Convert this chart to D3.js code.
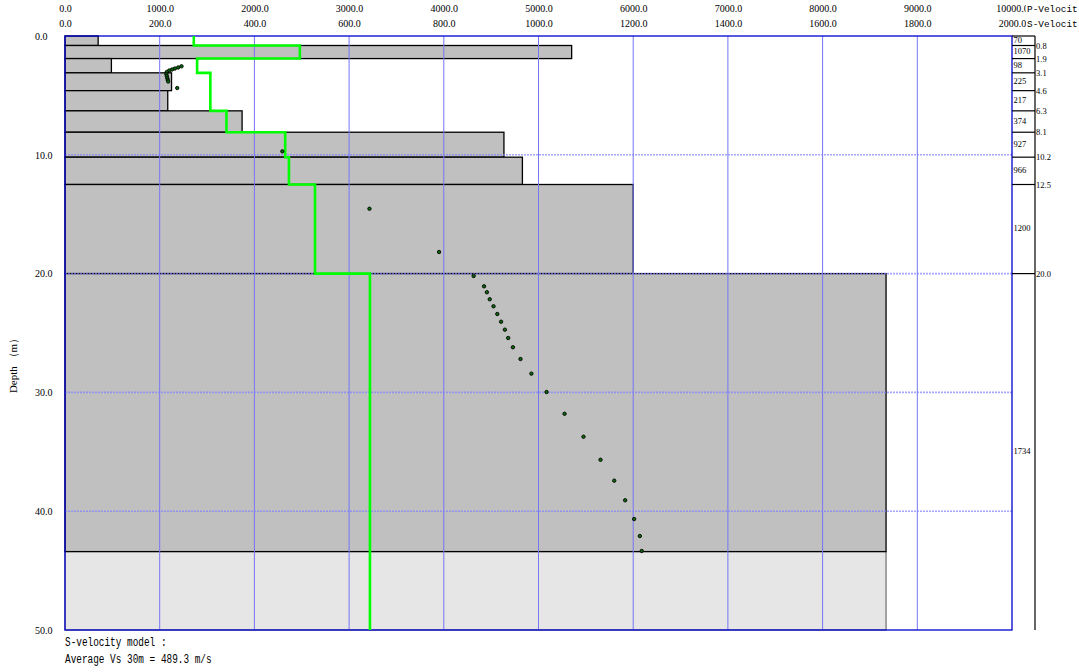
<!DOCTYPE html>
<html>
<head>
<meta charset="utf-8">
<script src="https://cdn.jsdelivr.net/npm/d3@7"></script>
<style>
  body { margin: 0; background: #fff; }
  svg { display: block; }
</style>
</head>
<body>
<div class="chart"></div>
<script>
// ---- data ----
const layerTops = [0, 0.8, 1.9, 3.1, 4.6, 6.3, 8.1, 10.2, 12.5, 20.0]
const layerBottoms = [0.8, 1.9, 3.1, 4.6, 6.3, 8.1, 10.2, 12.5, 20.0, 43.4]
const vsModel = [70, 1070, 98, 225, 217, 374, 927, 966, 1200, 1734]
const vsInitial = [272, 496, 279, 307, 307, 341, 465, 473, 528, 644]
const boundaryLabels = ['0.8', '1.9', '3.1', '4.6', '6.3', '8.1', '10.2', '12.5', '20.0']
const halfspace = { top: 43.4, bottom: 50, vs: 1734 }

const dispVel = [246, 239, 232, 226, 220, 215, 214, 215, 216, 217, 218, 237,
  459, 643, 790, 863, 885, 891, 897, 905, 913, 921, 929, 936, 946, 962, 985,
  1017, 1055, 1095, 1131, 1160, 1183, 1202, 1214, 1218]
const dispDepth = [2.55, 2.65, 2.74, 2.82, 2.91, 3.03, 3.2, 3.37, 3.54, 3.7, 3.83, 4.38,
  9.71, 14.54, 18.18, 20.2, 21.07, 21.57, 22.16, 22.75, 23.4, 24.05, 24.72, 25.42, 26.2,
  27.19, 28.42, 29.97, 31.8, 33.73, 35.67, 37.43, 39.08, 40.66, 42.09, 43.35]

const pTicks = d3.range(0, 10001, 1000)
const sTicks = d3.range(0, 2001, 200)
const depthTicks = [0, 10, 20, 30, 40, 50]

// ---- layout ----
const W = 1079, H = 672
const plot = { left: 65, right: 1012, top: 36, bottom: 630 }
const stripRight = 1035

const svg = d3.select('.chart').append('svg')
  .attr('width', W)
  .attr('height', H)

const xP = d3.scaleLinear().domain([0, 10000]).range([plot.left, plot.right])
const xS = d3.scaleLinear().domain([0, 2000]).range([plot.left, plot.right])
const y = d3.scaleLinear().domain([0, 50]).range([plot.top, plot.bottom])

const serif = '"Liberation Serif", "DejaVu Serif", serif'
const mono = '"Liberation Mono", "DejaVu Sans Mono", monospace'

// layer boxes
svg.append('rect')
  .attr('x', xS(0))
  .attr('y', y(halfspace.top))
  .attr('width', xS(halfspace.vs) - xS(0))
  .attr('height', y(halfspace.bottom) - y(halfspace.top))
  .attr('fill', '#e6e6e6')
  .attr('stroke', '#555')
  .attr('stroke-width', 1)

svg.append('g').selectAll('rect')
  .data(vsModel)
  .join('rect')
    .attr('x', xS(0))
    .attr('y', (d, i) => y(layerTops[i]))
    .attr('width', d => xS(d) - xS(0))
    .attr('height', (d, i) => y(layerBottoms[i]) - y(layerTops[i]))
    .attr('fill', '#c0c0c0')
    .attr('stroke', '#000')
    .attr('stroke-width', 1.3)

// grid
svg.append('g').selectAll('line')
  .data(pTicks.slice(1, -1))
  .join('line')
    .attr('x1', d => xP(d)).attr('x2', d => xP(d))
    .attr('y1', plot.top).attr('y2', plot.bottom)
    .attr('stroke', '#7575f5')
    .attr('stroke-width', 1)

svg.append('g').selectAll('line')
  .data(depthTicks.slice(1, -1))
  .join('line')
    .attr('x1', plot.left).attr('x2', plot.right)
    .attr('y1', d => y(d)).attr('y2', d => y(d))
    .attr('stroke', '#8080ff')
    .attr('stroke-opacity', 0.7)
    .attr('stroke-width', 1.6)
    .attr('stroke-dasharray', '2,1')

// plot frame
svg.append('rect')
  .attr('x', plot.left).attr('y', plot.top)
  .attr('width', plot.right - plot.left).attr('height', plot.bottom - plot.top)
  .attr('fill', 'none')
  .attr('stroke', '#0000d0')
  .attr('stroke-width', 1.3)

// right strip with layer boundaries
const strip = svg.append('g')
strip.append('line')
  .attr('x1', stripRight).attr('x2', stripRight)
  .attr('y1', plot.top).attr('y2', plot.bottom)
  .attr('stroke', '#000').attr('stroke-width', 1.2)
strip.append('line')
  .attr('x1', plot.right).attr('x2', stripRight)
  .attr('y1', plot.top).attr('y2', plot.top)
  .attr('stroke', '#000').attr('stroke-width', 1.2)
strip.selectAll('line.b')
  .data(layerBottoms.slice(0, -1))
  .join('line')
    .attr('class', 'b')
    .attr('x1', plot.right).attr('x2', stripRight)
    .attr('y1', d => y(d)).attr('y2', d => y(d))
    .attr('stroke', '#000').attr('stroke-width', 1.2)
strip.selectAll('text.b')
  .data(boundaryLabels)
  .join('text')
    .attr('class', 'b')
    .attr('x', stripRight + 1)
    .attr('y', (d, i) => y(layerBottoms[i]) + 3)
    .attr('font-family', serif)
    .attr('font-size', 8.5)
    .text(d => d)

// velocity label in each layer (last layer runs to the bottom)
const labelBottoms = layerBottoms.slice(0, -1).concat([50])
strip.selectAll('text.v')
  .data(vsModel)
  .join('text')
    .attr('class', 'v')
    .attr('x', plot.right + 1.5)
    .attr('y', (d, i) => (y(layerTops[i]) + y(labelBottoms[i])) / 2 + 2)
    .attr('font-family', serif)
    .attr('font-size', 8.5)
    .text(d => d)

// initial S-velocity model (green steps)
const steps = []
vsInitial.forEach((v, i) => {
  steps.push([v, layerTops[i]])
  steps.push([v, i === vsInitial.length - 1 ? 50 : layerBottoms[i]])
})
svg.append('path')
  .datum(steps)
  .attr('d', d3.line().x(d => xS(d[0])).y(d => y(d[1])))
  .attr('fill', 'none')
  .attr('stroke', '#00ff00')
  .attr('stroke-width', 2.6)

// dispersion points
svg.append('g').selectAll('circle')
  .data(dispVel)
  .join('circle')
    .attr('cx', d => xS(d))
    .attr('cy', (d, i) => y(dispDepth[i]))
    .attr('r', 1.7)
    .attr('fill', '#0a6a0a')
    .attr('stroke', '#000')
    .attr('stroke-width', 0.9)

// top axes
const fmt = d3.format('.1f')
const pAxis = svg.append('g')
  .attr('transform', 'translate(0, 12)')
  .call(d3.axisTop(xP).tickValues(pTicks).tickFormat(fmt).tickSize(0).tickPadding(0))
const sAxis = svg.append('g')
  .attr('transform', 'translate(0, 27)')
  .call(d3.axisTop(xS).tickValues(sTicks).tickFormat(fmt).tickSize(0).tickPadding(0))
;[pAxis, sAxis].forEach(g => {
  g.select('.domain').remove()
  g.selectAll('text')
    .attr('font-family', serif)
    .attr('font-size', 10)
    .attr('fill', '#000')
    .attr('dy', 0)
})

// left depth axis
const yAxis = svg.append('g')
  .attr('transform', `translate(${plot.left}, 0)`)
  .call(d3.axisLeft(y).tickValues(depthTicks).tickFormat(fmt).tickSize(0))
yAxis.select('.domain').remove()
yAxis.selectAll('text')
  .attr('x', 35 - plot.left)
  .attr('dy', '0.32em')
  .attr('text-anchor', 'start')
  .attr('font-family', serif)
  .attr('font-size', 10)
  .attr('fill', '#000')

// axis titles, drawn over the end of the last tick label as in the original
svg.append('rect')
  .attr('x', 1026).attr('y', 0).attr('width', 53).attr('height', 30)
  .attr('fill', '#fff')
svg.append('text')
  .attr('x', 1027).attr('y', 11.5)
  .attr('font-family', mono).attr('font-size', 9.4)
  .text('P-Velocit')
svg.append('text')
  .attr('x', 1027).attr('y', 26.5)
  .attr('font-family', mono).attr('font-size', 9.4)
  .text('S-Velocit')

svg.append('text')
  .attr('transform', `translate(17, ${(plot.top + plot.bottom) / 2 + 30}) rotate(-90)`)
  .attr('text-anchor', 'middle')
  .attr('font-family', serif)
  .attr('font-size', 11)
  .text('Depth （m）')

// summary text
svg.append('text')
  .attr('x', 65).attr('y', 646)
  .attr('font-family', mono).attr('font-size', 12)
  .attr('textLength', 18 * 5.64).attr('lengthAdjust', 'spacingAndGlyphs')
  .text('S-velocity model :')
svg.append('text')
  .attr('x', 65).attr('y', 663)
  .attr('font-family', mono).attr('font-size', 12)
  .attr('textLength', 26 * 5.64).attr('lengthAdjust', 'spacingAndGlyphs')
  .text('Average Vs 30m = 489.3 m/s')
</script>
</body>
</html>
